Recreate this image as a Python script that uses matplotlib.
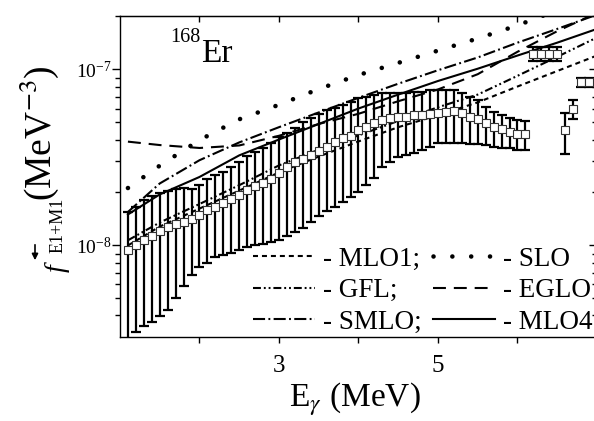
import matplotlib
matplotlib.use("Agg")
import matplotlib.pyplot as plt
from matplotlib.ticker import FixedLocator, FuncFormatter, NullFormatter, LogLocator

plt.rcParams['font.family'] = ['Liberation Serif', 'DejaVu Serif']
plt.rcParams['mathtext.fontset'] = 'stix'

SCALE = 1e-8  # all strength values below are in units of 1e-8 MeV^-3

# ---- experimental data (main set) ----
energy = [1.1, 1.2, 1.3, 1.4, 1.5, 1.6, 1.7, 1.8, 1.9, 2.0,
          2.1, 2.2, 2.3, 2.4, 2.5, 2.6, 2.7, 2.8, 2.9, 3.0,
          3.1, 3.2, 3.3, 3.4, 3.5, 3.6, 3.7, 3.8, 3.9, 4.0,
          4.1, 4.2, 4.3, 4.4, 4.5, 4.6, 4.7, 4.8, 4.9, 5.0,
          5.1, 5.2, 5.3, 5.4, 5.5, 5.6, 5.7, 5.8, 5.9, 6.0, 6.1]
f_mid = [0.943, 1.003, 1.075, 1.137, 1.209, 1.269, 1.320, 1.365, 1.409, 1.490,
         1.591, 1.661, 1.737, 1.830, 1.936, 2.067, 2.187, 2.275, 2.377, 2.592,
         2.804, 2.993, 3.113, 3.267, 3.443, 3.643, 3.889, 4.066, 4.190, 4.532,
         4.732, 4.947, 5.165, 5.281, 5.351, 5.393, 5.514, 5.514, 5.565, 5.682,
         5.734, 5.787, 5.638, 5.393, 5.234, 4.966, 4.732, 4.609, 4.433, 4.301, 4.301]
f_top = [1.556, 1.661, 1.814, 1.911, 1.995, 2.040, 2.094, 2.113, 2.086, 2.207,
         2.387, 2.516, 2.627, 2.782, 2.970, 3.237, 3.412, 3.594, 3.808, 4.120,
         4.341, 4.652, 5.031, 5.302, 5.587, 5.887, 6.019, 6.285, 6.561, 6.861,
         7.006, 7.163, 7.325, 7.325, 7.325, 7.325, 7.402, 7.480, 7.598, 7.647,
         7.647, 7.647, 7.325, 6.951, 6.711, 6.146, 5.756, 5.514, 5.323, 5.165, 5.118]
f_bot = [0.250, 0.323, 0.350, 0.366, 0.398, 0.430, 0.501, 0.589, 0.680, 0.758,
         0.799, 0.857, 0.883, 0.910, 0.943, 0.984, 1.011, 1.020, 1.047, 1.075,
         1.132, 1.193, 1.257, 1.360, 1.471, 1.570, 1.655, 1.767, 1.894, 2.021,
         2.207, 2.409, 2.804, 2.993, 3.195, 3.267, 3.341, 3.488, 3.643, 3.808,
         3.808, 3.808, 3.808, 3.773, 3.773, 3.724, 3.643, 3.594, 3.566, 3.488, 3.488]

# ---- experimental data (high-energy points) ----
energy_hi = [6.2, 6.3, 6.4, 6.5, 6.6, 6.7, 6.8, 6.9]
f_hi_mid = [12.25, 12.25, 12.25, 12.25, 4.532, 5.965, 8.492, 8.492]
f_hi_top = [13.34, 13.34, 13.34, 13.34, 5.638, 6.711, 8.913, 8.913]
f_hi_bot = [11.18, 11.18, 11.18, 11.18, 3.311, 5.212, 7.985, 7.985]

# ---- model curves ----
model_E = [1.1, 1.5, 2.0, 2.5, 3.0, 3.5, 4.0, 4.5, 5.0, 5.5, 6.0, 6.5, 7.0]
f_slo  = [2.12, 2.84, 3.97, 5.21, 6.30, 7.74, 9.30, 10.9, 12.8, 15.0, 17.8, 21.7, 26.0]
f_mlo4 = [1.50, 1.95, 2.45, 3.25, 4.00, 4.90, 6.00, 7.20, 8.60, 10.1, 12.0, 14.2, 17.0]
f_smlo = [1.55, 2.25, 3.05, 3.85, 4.70, 5.70, 6.90, 8.30, 9.90, 11.7, 14.2, 17.0, 20.5]
f_eglo = [3.89, 3.72, 3.58, 3.70, 4.20, 4.90, 5.60, 6.60, 7.70, 9.40, 12.6, 16.5, 21.0]
f_gfl  = [1.07, 1.35, 1.72, 2.20, 2.85, 3.50, 4.22, 5.10, 6.10, 7.20, 9.20, 11.8, 15.2]
f_mlo1 = [1.00, 1.28, 1.62, 2.05, 2.60, 3.20, 3.90, 4.70, 5.50, 6.50, 8.00, 9.80, 12.0]

legend_labels = ['- MLO1;', '- GFL;', '- SMLO;', '- SLO', '- EGLO', '- MLO4']

def sc(v):
    return [x * SCALE for x in v]

fig = plt.figure(figsize=(5.94, 4.21), dpi=100)
ax = fig.add_axes([0.2020, 0.2002, 0.8030, 0.7618])
ax.set_yscale('log')

lw = 1.5
h_mlo1, = ax.plot(model_E, sc(f_mlo1), color='k', lw=lw, ls=(0, (2.4, 1.9)), zorder=3)
h_gfl, = ax.plot(model_E, sc(f_gfl), color='k', lw=lw, ls=(0, (3.8, 1.4, 0.9, 1.4, 0.9, 1.4)), zorder=3)
h_smlo, = ax.plot(model_E, sc(f_smlo), color='k', lw=lw, ls=(0, (5.8, 1.6, 0.9, 1.6)), zorder=3)
h_slo, = ax.plot(model_E, sc(f_slo), color='k', lw=3.3, ls=(0, (0.01, 4.1)),
                 dash_capstyle='round', zorder=3)
h_eglo, = ax.plot(model_E, sc(f_eglo), color='k', lw=lw, ls=(0, (6.2, 3.8)), zorder=3)
h_mlo4, = ax.plot(model_E, sc(f_mlo4), color='k', lw=lw, ls='-', zorder=3)

def err(mid, lo, hi):
    return [[(m - l) * SCALE for m, l in zip(mid, lo)],
            [(h - m) * SCALE for m, h in zip(mid, hi)]]

for E, m, lo, hi in [(energy, f_mid, f_bot, f_top), (energy_hi, f_hi_mid, f_hi_bot, f_hi_top)]:
    ax.errorbar(E, sc(m), yerr=err(m, lo, hi), fmt='none', ecolor='k',
                elinewidth=1.6, capsize=3.5, capthick=1.6, zorder=2)
    ax.plot(E, sc(m), ls='none', marker='s', ms=5.6, mfc='white', mec='#333333',
            mew=0.8, zorder=5)

ax.set_xlim(1.0, 7.0)
ax.set_ylim(3.03e-9, 2.013e-7)

# ticks
ax.xaxis.set_major_locator(FixedLocator([2, 3, 4, 5, 6]))
ax.xaxis.set_major_formatter(FuncFormatter(lambda x, p: '%d' % x if round(x) in (3, 5) else ''))
ax.tick_params(axis='x', which='major', direction='out', length=4.5, width=1.0,
               pad=9, labelsize=18, top=False)
ax.tick_params(axis='y', which='major', direction='out', length=5.5, width=1.0,
               pad=0.5, labelsize=14, right=False)
ax.tick_params(axis='y', which='minor', direction='out', length=3.5, width=1.0, right=False)
ax.yaxis.set_major_locator(LogLocator(base=10))
ax.yaxis.set_minor_locator(LogLocator(base=10, subs=[2, 3, 4, 5, 6, 7, 8, 9]))
ax.yaxis.set_minor_formatter(NullFormatter())

secx = ax.secondary_xaxis('top')
secx.set_xticks([2, 3, 4, 5, 6])
secx.tick_params(direction='in', length=4.5, width=1.0, labeltop=False)
secx.xaxis.set_major_formatter(NullFormatter())
secy = ax.secondary_yaxis('right')
secy.tick_params(which='both', direction='in', width=1.0, labelright=False)
secy.tick_params(which='major', length=5.5)
secy.tick_params(which='minor', length=3.5)
secy.yaxis.set_major_formatter(NullFormatter())
secy.yaxis.set_minor_formatter(NullFormatter())

for s in ax.spines.values():
    s.set_linewidth(1.0)

leg = ax.legend([h_mlo1, h_gfl, h_smlo, h_slo, h_eglo, h_mlo4], legend_labels,
                ncol=2, loc='upper left', bbox_to_anchor=(0.279, 0.281),
                frameon=False, fontsize=19.5, handlelength=2.3, handletextpad=0.3,
                columnspacing=0.4, labelspacing=0.24, borderpad=0, borderaxespad=0)
leg.set_zorder(10)

W, H = 594.0, 421.0
def fx(x):
    return x / W
def fy(y):
    return 1 - y / H

# y-axis label built from pieces
fig.text(fx(64), fy(272), 'f', rotation=90, rotation_mode='anchor', ha='left',
         va='baseline', fontsize=20, style='italic')
fig.text(fx(63), fy(253), 'E1+M1', rotation=90, rotation_mode='anchor', ha='left',
         va='baseline', fontsize=13)
fig.text(fx(51), fy(201), '(MeV$^{-3}$)', rotation=90, rotation_mode='anchor', ha='left',
         va='baseline', fontsize=27)
ax.annotate('', xy=(fx(35), fy(263)), xytext=(fx(35), fy(242)),
            xycoords='figure fraction', textcoords='figure fraction',
            arrowprops=dict(arrowstyle='-|>', lw=1.2, color='k', mutation_scale=9))

# x-axis label
fig.text(fx(355), fy(407), 'E$_{\\gamma}$ (MeV)', ha='center', va='baseline', fontsize=24)

# nucleus label
fig.text(fx(170), fy(42), '168', ha='left', va='baseline', fontsize=14.5)
fig.text(fx(201), fy(62), 'Er', ha='left', va='baseline', fontsize=24)

fig.savefig('out.png', dpi=100)
